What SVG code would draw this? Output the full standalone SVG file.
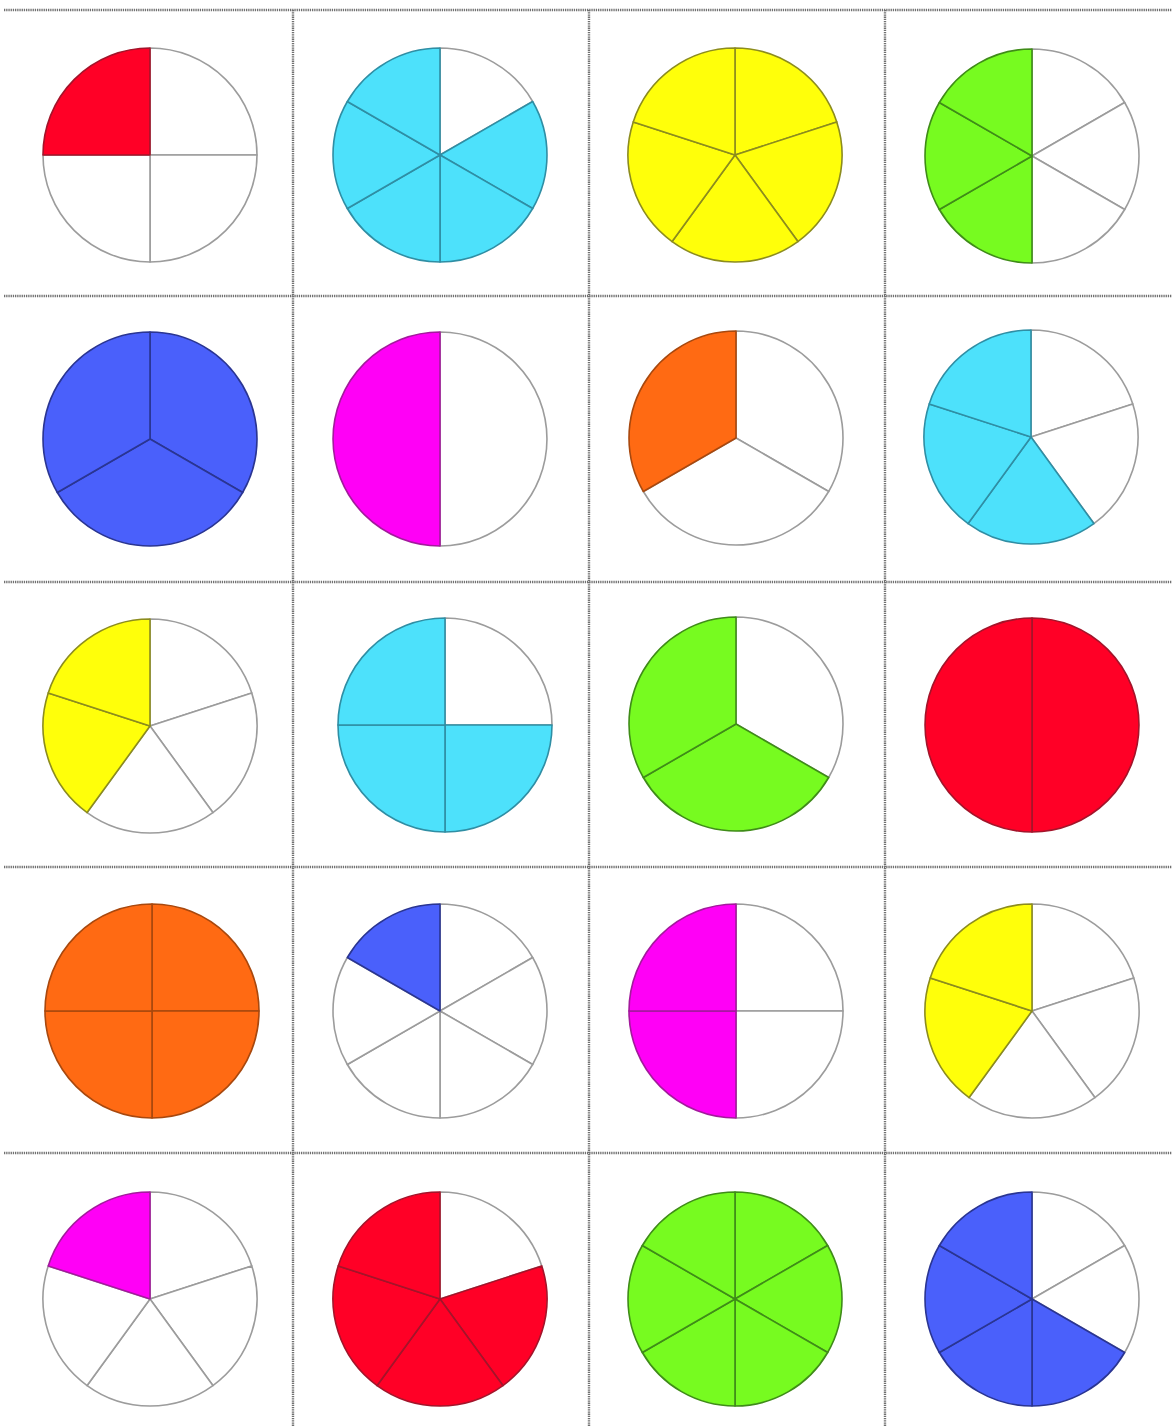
<svg xmlns="http://www.w3.org/2000/svg" xmlns:xlink="http://www.w3.org/1999/xlink" width="1172" height="1426" viewBox="0 0 1172 1426">
<style>
.grid line{stroke:#707070;stroke-width:2.4;stroke-dasharray:1.3 0.9}
use{stroke-width:1.6;stroke-linejoin:round}
.w{fill:#ffffff;stroke:#9c9c9c}
.red{fill:#ff0026;stroke:#a3142a}
.cyan{fill:#4de1fb;stroke:#2f8ea4}
.yellow{fill:#ffff0a;stroke:#8c8c1e}
.green{fill:#77fb20;stroke:#3f8c18}
.blue{fill:#4a60fb;stroke:#2a3592}
.magenta{fill:#ff00f6;stroke:#a31a9c}
.orange{fill:#ff6a13;stroke:#a8480e}
</style>
<defs>
<path id="s2" d="M0,0 L0,-107 A107,107 0 0 1 0,107 Z"/>
<path id="s3" d="M0,0 L0,-107 A107,107 0 0 1 92.665,53.5 Z"/>
<path id="s4" d="M0,0 L0,-107 A107,107 0 0 1 107,0 Z"/>
<path id="s5" d="M0,0 L0,-107 A107,107 0 0 1 101.763,-33.065 Z"/>
<path id="s6" d="M0,0 L0,-107 A107,107 0 0 1 92.665,-53.5 Z"/>
</defs>
<rect width="1172" height="1426" fill="#ffffff"/>
<g id="connectors" class="grid">
<line x1="4" y1="10" x2="1172" y2="10"/>
<line x1="4" y1="296" x2="1172" y2="296"/>
<line x1="4" y1="582" x2="1172" y2="582"/>
<line x1="4" y1="867" x2="1172" y2="867"/>
<line x1="4" y1="1153" x2="1172" y2="1153"/>
<line x1="293" y1="10" x2="293" y2="1426"/>
<line x1="589" y1="10" x2="589" y2="1426"/>
<line x1="885" y1="10" x2="885" y2="1426"/>
</g>
<g id="pie-r1c1" transform="translate(150,155)">
<use href="#s4" class="w"/><use href="#s4" class="w" transform="rotate(90)"/><use href="#s4" class="w" transform="rotate(180)"/><use href="#s4" class="red" transform="rotate(270)"/>
</g>
<g id="pie-r1c2" transform="translate(440,155)">
<use href="#s6" class="w"/><use href="#s6" class="cyan" transform="rotate(60)"/><use href="#s6" class="cyan" transform="rotate(120)"/><use href="#s6" class="cyan" transform="rotate(180)"/><use href="#s6" class="cyan" transform="rotate(240)"/><use href="#s6" class="cyan" transform="rotate(300)"/>
</g>
<g id="pie-r1c3" transform="translate(735,155)">
<use href="#s5" class="yellow"/><use href="#s5" class="yellow" transform="rotate(72)"/><use href="#s5" class="yellow" transform="rotate(144)"/><use href="#s5" class="yellow" transform="rotate(216)"/><use href="#s5" class="yellow" transform="rotate(288)"/>
</g>
<g id="pie-r1c4" transform="translate(1032,156)">
<use href="#s6" class="w"/><use href="#s6" class="w" transform="rotate(60)"/><use href="#s6" class="w" transform="rotate(120)"/><use href="#s6" class="green" transform="rotate(180)"/><use href="#s6" class="green" transform="rotate(240)"/><use href="#s6" class="green" transform="rotate(300)"/>
</g>
<g id="pie-r2c1" transform="translate(150,439)">
<use href="#s3" class="blue"/><use href="#s3" class="blue" transform="rotate(120)"/><use href="#s3" class="blue" transform="rotate(240)"/>
</g>
<g id="pie-r2c2" transform="translate(440,439)">
<use href="#s2" class="w"/><use href="#s2" class="magenta" transform="rotate(180)"/>
</g>
<g id="pie-r2c3" transform="translate(736,438)">
<use href="#s3" class="w"/><use href="#s3" class="w" transform="rotate(120)"/><use href="#s3" class="orange" transform="rotate(240)"/>
</g>
<g id="pie-r2c4" transform="translate(1031,437)">
<use href="#s5" class="w"/><use href="#s5" class="w" transform="rotate(72)"/><use href="#s5" class="cyan" transform="rotate(144)"/><use href="#s5" class="cyan" transform="rotate(216)"/><use href="#s5" class="cyan" transform="rotate(288)"/>
</g>
<g id="pie-r3c1" transform="translate(150,726)">
<use href="#s5" class="w"/><use href="#s5" class="w" transform="rotate(72)"/><use href="#s5" class="w" transform="rotate(144)"/><use href="#s5" class="yellow" transform="rotate(216)"/><use href="#s5" class="yellow" transform="rotate(288)"/>
</g>
<g id="pie-r3c2" transform="translate(445,725)">
<use href="#s4" class="w"/><use href="#s4" class="cyan" transform="rotate(90)"/><use href="#s4" class="cyan" transform="rotate(180)"/><use href="#s4" class="cyan" transform="rotate(270)"/>
</g>
<g id="pie-r3c3" transform="translate(736,724)">
<use href="#s3" class="w"/><use href="#s3" class="green" transform="rotate(120)"/><use href="#s3" class="green" transform="rotate(240)"/>
</g>
<g id="pie-r3c4" transform="translate(1032,725)">
<use href="#s2" class="red"/><use href="#s2" class="red" transform="rotate(180)"/>
</g>
<g id="pie-r4c1" transform="translate(152,1011)">
<use href="#s4" class="orange"/><use href="#s4" class="orange" transform="rotate(90)"/><use href="#s4" class="orange" transform="rotate(180)"/><use href="#s4" class="orange" transform="rotate(270)"/>
</g>
<g id="pie-r4c2" transform="translate(440,1011)">
<use href="#s6" class="w"/><use href="#s6" class="w" transform="rotate(60)"/><use href="#s6" class="w" transform="rotate(120)"/><use href="#s6" class="w" transform="rotate(180)"/><use href="#s6" class="w" transform="rotate(240)"/><use href="#s6" class="blue" transform="rotate(300)"/>
</g>
<g id="pie-r4c3" transform="translate(736,1011)">
<use href="#s4" class="w"/><use href="#s4" class="w" transform="rotate(90)"/><use href="#s4" class="magenta" transform="rotate(180)"/><use href="#s4" class="magenta" transform="rotate(270)"/>
</g>
<g id="pie-r4c4" transform="translate(1032,1011)">
<use href="#s5" class="w"/><use href="#s5" class="w" transform="rotate(72)"/><use href="#s5" class="w" transform="rotate(144)"/><use href="#s5" class="yellow" transform="rotate(216)"/><use href="#s5" class="yellow" transform="rotate(288)"/>
</g>
<g id="pie-r5c1" transform="translate(150,1299)">
<use href="#s5" class="w"/><use href="#s5" class="w" transform="rotate(72)"/><use href="#s5" class="w" transform="rotate(144)"/><use href="#s5" class="w" transform="rotate(216)"/><use href="#s5" class="magenta" transform="rotate(288)"/>
</g>
<g id="pie-r5c2" transform="translate(440,1299)">
<use href="#s5" class="w"/><use href="#s5" class="red" transform="rotate(72)"/><use href="#s5" class="red" transform="rotate(144)"/><use href="#s5" class="red" transform="rotate(216)"/><use href="#s5" class="red" transform="rotate(288)"/>
</g>
<g id="pie-r5c3" transform="translate(735,1299)">
<use href="#s6" class="green"/><use href="#s6" class="green" transform="rotate(60)"/><use href="#s6" class="green" transform="rotate(120)"/><use href="#s6" class="green" transform="rotate(180)"/><use href="#s6" class="green" transform="rotate(240)"/><use href="#s6" class="green" transform="rotate(300)"/>
</g>
<g id="pie-r5c4" transform="translate(1032,1299)">
<use href="#s6" class="w"/><use href="#s6" class="w" transform="rotate(60)"/><use href="#s6" class="blue" transform="rotate(120)"/><use href="#s6" class="blue" transform="rotate(180)"/><use href="#s6" class="blue" transform="rotate(240)"/><use href="#s6" class="blue" transform="rotate(300)"/>
</g>
</svg>
